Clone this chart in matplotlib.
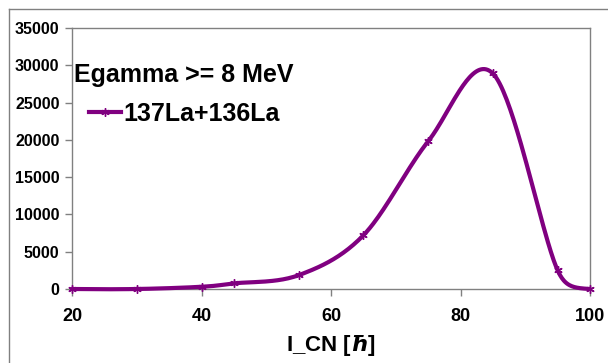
import numpy as np
import matplotlib
matplotlib.use("Agg")
import matplotlib.pyplot as plt
from matplotlib.lines import Line2D

plt.rcParams['font.family'] = ['Liberation Sans', 'DejaVu Sans']
plt.rcParams['font.weight'] = 'bold'

# spin (I_CN) and yield for Egamma >= 8 MeV
spin = [20, 30, 40, 45, 55, 65, 75, 85, 95, 100]
counts = [0, 0, 300, 750, 1850, 7200, 19800, 28900, 2500, 0]
yticks = [0, 5000, 10000, 15000, 20000, 25000, 30000, 35000]
xticks = [20, 40, 60, 80, 100]
purple = '#800080'
grey = '#808080'


def excel_smooth(x, y, sx=1.0, sy=1.0, n=40, k=0.5):
    # catmull-rom style bezier, control arms capped at k * segment length (screen units)
    P = np.column_stack([np.asarray(x, float), np.asarray(y, float)])
    scale = np.array([sx, sy])
    m = len(P)

    def plen(v):
        return np.hypot(*(v * scale))

    t = np.linspace(0, 1, n)[:, None]
    ctrl = []
    for i in range(m - 1):
        a, b = P[i], P[i + 1]
        d = plen(b - a)
        arm1 = (b - P[i - 1]) / 6 if i > 0 else None
        arm2 = (P[i + 2] - a) / 6 if i < m - 2 else None
        if arm1 is not None and plen(arm1) > k * d:
            arm1 = arm1 * k * d / plen(arm1)
        if arm2 is not None and plen(arm2) > k * d:
            arm2 = arm2 * k * d / plen(arm2)
        c1 = a + arm1 if arm1 is not None else None
        c2 = b - arm2 if arm2 is not None else None
        if c1 is None:
            c1 = a + (c2 - a) * 2 / 3
        if c2 is None:
            c2 = b + (c1 - b) * 2 / 3
        ctrl.append((a, c1, c2, b))
    out = [(1 - t) ** 3 * a + 3 * (1 - t) ** 2 * t * c1 + 3 * (1 - t) * t ** 2 * c2 + t ** 3 * b
           for a, c1, c2, b in ctrl]
    out = np.vstack(out)
    return out[:, 0], out[:, 1]


fig = plt.figure(figsize=(6.08, 3.63), dpi=100)
ax = fig.add_axes([72 / 608, 1 - 289 / 363, (590 - 72) / 608, (289 - 28) / 363])

# outer chart border
fig.add_artist(Line2D([9 / 608, 9 / 608], [0, 1 - 9 / 363], color=grey, lw=1, transform=fig.transFigure))
fig.add_artist(Line2D([9 / 608, 1], [1 - 9 / 363, 1 - 9 / 363], color=grey, lw=1, transform=fig.transFigure))

star = (6, 2, 0)
cx, cy = excel_smooth(spin, counts, sx=518 / 80, sy=261 / 35000)
ax.plot(cx, cy, color=purple, lw=3, solid_capstyle='round', zorder=3, clip_on=False)
ax.plot(spin, counts, ls='none', marker=star, ms=6, mew=1.0, color=purple, zorder=4, clip_on=False)

ax.set_xlim(20, 100)
ax.set_ylim(0, 35000)
ax.set_xticks(xticks)
ax.set_yticks(yticks)
for s in ax.spines.values():
    s.set_color(grey)
    s.set_linewidth(1)
ax.tick_params(axis='both', direction='out', color=grey, length=5, width=1)
ax.tick_params(axis='x', labelsize=13, pad=8.5)
ax.tick_params(axis='y', labelsize=11.5, pad=4)
ax.set_xlabel('I_CN [$\\hbar$]', fontsize=16, fontweight='bold', labelpad=6)

handle = Line2D([], [], color=purple, lw=3, marker=star, ms=6, mew=1.0)
leg = ax.legend([handle], ['137La+136La'], title='Egamma >= 8 MeV', loc='upper left',
                bbox_to_anchor=(0.0, 0.875), frameon=False, fontsize=18,
                title_fontsize=18, handlelength=1.3, handletextpad=0.1,
                labelspacing=0.6, borderaxespad=0.0, borderpad=0.1)
leg.get_title().set_fontweight('bold')

fig.savefig('out.png', dpi=100)
